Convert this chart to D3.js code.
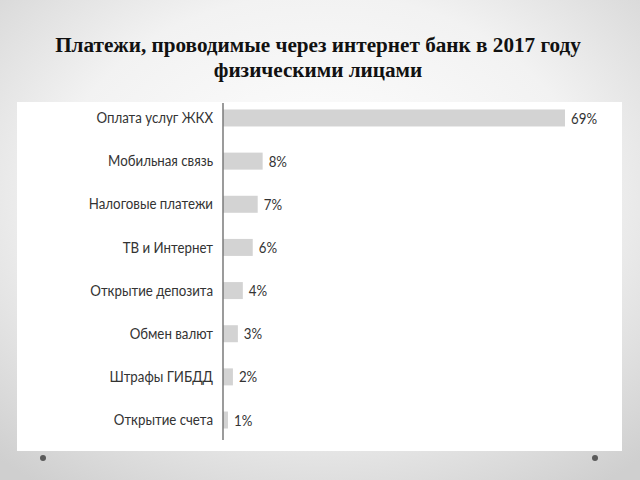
<!DOCTYPE html>
<html><head><meta charset="utf-8">
<script src="https://cdn.jsdelivr.net/npm/d3@7"></script>
<style>html,body{margin:0;padding:0;overflow:hidden;}</style>
</head><body>
<script>
const titleLines = ["Платежи, проводимые через интернет банк в 2017 году", "физическими лицами"];
const categories = ["Оплата услуг ЖКХ","Мобильная связь","Налоговые платежи","ТВ и Интернет","Открытие депозита","Обмен валют","Штрафы ГИБДД","Открытие счета"];
const values = [69, 8, 7, 6, 4, 3, 2, 1];
const valueLabels = ["69%","8%","7%","6%","4%","3%","2%","1%"];

const W = 640, H = 480;
const svg = d3.select("body").append("svg").attr("width", W).attr("height", H);
const defs = svg.append("defs");
const rg = defs.append("radialGradient").attr("id","bg").attr("cx","50%").attr("cy","40%").attr("r","75%");
rg.append("stop").attr("offset","0%").attr("stop-color","#ffffff");
rg.append("stop").attr("offset","55%").attr("stop-color","#f2f2f2");
rg.append("stop").attr("offset","100%").attr("stop-color","#cfcfcf");
svg.append("rect").attr("width",W).attr("height",H).attr("fill","url(#bg)");

// white panel
svg.append("rect").attr("x",17).attr("y",102).attr("width",605).attr("height",349).attr("fill","#ffffff");

// decorative dots
svg.selectAll("circle.dot").data([43, 595]).enter().append("circle")
  .attr("cx", d => d).attr("cy", 458).attr("r", 3).attr("fill", "#5a5a5a");

// title
svg.selectAll("text.title").data(titleLines).enter().append("text")
  .attr("x", 318).attr("y", (d,i) => 52 + i*25)
  .attr("text-anchor","middle")
  .attr("font-family","'Liberation Serif','Times New Roman',serif")
  .attr("font-weight","bold").attr("font-size",21.2).attr("fill","#111")
  .text(d => d);

const y = d3.scaleBand().domain(categories).range([96.4, 441.6]).paddingInner(0.606).paddingOuter(0.303);
const x = d3.scaleLinear().domain([0, 69]).range([223, 565]);

const g = svg.append("g");
g.selectAll("rect.bar").data(values).enter().append("rect")
  .attr("x", x(0)).attr("y", (d,i) => y(categories[i]))
  .attr("width", d => x(d) - x(0)).attr("height", y.bandwidth())
  .attr("fill", "#d3d3d3");

const FONT = "Lato, 'Open Sans', sans-serif";
const SX = 0.83;
// axis line
const yAxis = d3.axisLeft(y).tickSize(0).tickPadding(10);
const ax = svg.append("g").attr("transform", `translate(${x(0)},0)`).call(yAxis);
ax.select(".domain").remove();
ax.append("line").attr("x1",0).attr("x2",0).attr("y1",103).attr("y2",440).attr("stroke","#7a7a7a").attr("stroke-width",1.5);
ax.selectAll(".tick text").attr("font-family",FONT).attr("font-size",16).attr("fill","#333")
  .attr("x", -10 / SX).attr("transform", `scale(${SX},1)`);

g.selectAll("text.val").data(values).enter().append("text")
  .attr("transform", (d,i) => `translate(${x(d) + 6},${y(categories[i]) + y.bandwidth()/2}) scale(${SX},1)`)
  .attr("dy","0.35em")
  .attr("font-family",FONT).attr("font-size",16).attr("fill","#333")
  .text((d,i) => valueLabels[i]);
</script>
</body></html>
